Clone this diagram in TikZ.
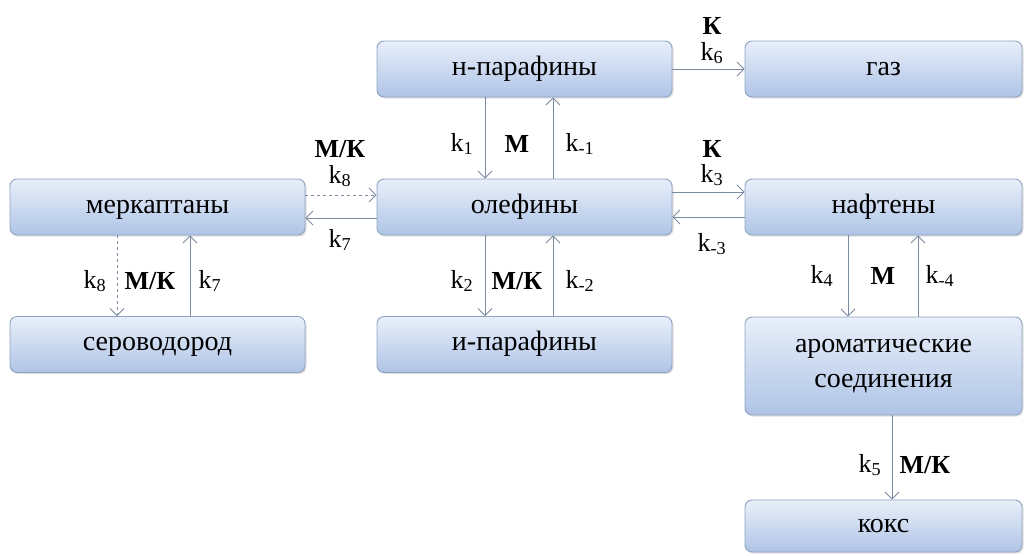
\documentclass[tikz,border=0pt]{standalone}
\usepackage{fontspec}
\setmainfont{Liberation Serif}
\newfontfamily\tnr{Liberation Serif}
\usepackage{tikz}
\usetikzlibrary{arrows.meta,shadows}
\definecolor{boxtop}{HTML}{E8EFFA}
\definecolor{boxbot}{HTML}{AFC4E6}
\definecolor{boxline}{HTML}{8FA3C2}
\definecolor{arline}{HTML}{7B8CA2}
\tikzset{
  box/.style={draw=boxline,line width=0.9pt,rounded corners=7pt,top color=boxtop,bottom color=boxbot,
    minimum height=56pt,minimum width=295pt,align=center,font=\tnr\fontsize{28}{35}\selectfont,
    drop shadow={shadow xshift=1.5pt,shadow yshift=-1.5pt,opacity=0.25}},
  one/.style={text height=19pt,text depth=6.4pt},
  wbox/.style={box,minimum width=277pt},
  ar/.style={draw=arline,line width=0.9pt,-{Straight Barb[length=7pt,width=14pt]}},
  dar/.style={ar,dashed},
  lbl/.style={font=\tnr\fontsize{26}{30}\selectfont,inner sep=1pt},
  cat/.style={lbl,font=\tnr\fontsize{26}{30}\selectfont\bfseries}
}
\newcommand{\kk}[1]{k\textsubscript{#1}}
\begin{document}
\begin{tikzpicture}[x=1pt,y=-1pt]
\useasboundingbox (0,0) rectangle (1031,555);
\node[box,one] (np) at (524.5,69) {н-парафины};
\node[wbox,one] (gaz) at (883.5,69) {газ};
\node[box,one] (ol) at (524.5,207) {олефины};
\node[wbox,one] (naf) at (883.5,207) {нафтены};
\node[box,one] (mer) at (157.5,207) {меркаптаны};
\node[box,one] (hs) at (157.5,344.5) {сероводород};
\node[box,one] (ip) at (524.5,344.5) {и-парафины};
\node[wbox,minimum height=98pt] (arom) at (883.5,366) {ароматические\\соединения};
\node[wbox,one,minimum height=52pt] (koks) at (883.5,526) {кокс};

\draw[ar] (np.east) -- (gaz.west);
\draw[ar] ([yshift=15pt]ol.east) -- ([yshift=15pt]naf.west);
\draw[ar] ([yshift=-10pt]naf.west) -- ([yshift=-10pt]ol.east);
\draw[dar] ([yshift=12pt]mer.east) -- ([yshift=12pt]ol.west);
\draw[ar] ([yshift=-11pt]ol.west) -- ([yshift=-11pt]mer.east);
\draw[ar] ([xshift=-39.5pt]np.south) -- ([xshift=-39.5pt]ol.north);
\draw[ar] ([xshift=28.5pt]ol.north) -- ([xshift=28.5pt]np.south);
\draw[ar] ([xshift=-39.5pt]ol.south) -- ([xshift=-39.5pt]ip.north);
\draw[ar] ([xshift=28.5pt]ip.north) -- ([xshift=28.5pt]ol.south);
\draw[dar] ([xshift=-40.5pt]mer.south) -- ([xshift=-40.5pt]hs.north);
\draw[ar] ([xshift=32.5pt]hs.north) -- ([xshift=32.5pt]mer.south);
\draw[ar] ([xshift=-35.5pt]naf.south) -- ([xshift=-35.5pt]arom.north);
\draw[ar] ([xshift=34.5pt]arom.north) -- ([xshift=34.5pt]naf.south);
\draw[ar] ([xshift=8.5pt]arom.south) -- ([xshift=8.5pt]koks.north);

\node[cat] (c6) at (712,26) {К};
\node[lbl] (k6) at (712,53) {\kk{6}};
\node[cat] (c3) at (712,149) {К};
\node[lbl] (k3) at (712,175) {\kk{3}};
\node[lbl] (km3) at (712,244) {\kk{-3}};
\node[cat] (c8) at (340,149) {М/К};
\node[lbl] (k8) at (340,176) {\kk{8}};
\node[lbl] (k7) at (340,240) {\kk{7}};
\node[lbl] (k1) at (462,144) {\kk{1}};
\node[cat] (c1) at (517,144) {М};
\node[lbl] (km1) at (580,144) {\kk{-1}};
\node[lbl] (k2) at (462,281) {\kk{2}};
\node[cat] (c2) at (517,281) {М/К};
\node[lbl] (km2) at (580,281) {\kk{-2}};
\node[lbl] (k8b) at (95,281) {\kk{8}};
\node[cat] (c8b) at (150,281) {М/К};
\node[lbl] (k7b) at (210,281) {\kk{7}};
\node[lbl] (k4) at (822,276) {\kk{4}};
\node[cat] (c4) at (883,276) {М};
\node[lbl] (km4) at (940,276) {\kk{-4}};
\node[lbl] (k5) at (870,465) {\kk{5}};
\node[cat] (c5) at (925,465) {М/К};
\end{tikzpicture}
\end{document}
